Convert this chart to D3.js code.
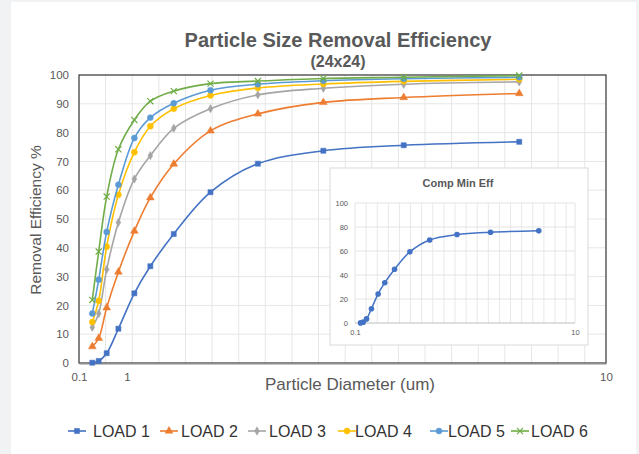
<!DOCTYPE html>
<html><head><meta charset="utf-8">
<script src="https://cdn.jsdelivr.net/npm/d3@7"></script>
<style>
html,body{margin:0;padding:0;background:#f1f2f4;}
svg{display:block;}
text{font-family:"Liberation Sans",Arial,sans-serif;}
</style></head>
<body>
<svg id="c" width="639" height="454"></svg>
<script>
const diameters = [0.35, 0.47, 0.62, 0.84, 1.14, 1.44, 1.88, 2.57, 3.46, 4.69, 6.20, 8.37];
const load1 = [0.1, 0.7, 3.4, 11.9, 24.2, 33.6, 44.8, 59.3, 69.2, 73.7, 75.6, 76.8];
const load2 = [5.7, 8.6, 19.2, 31.6, 45.8, 57.4, 69.1, 80.6, 86.5, 90.5, 92.2, 93.6];
const load3 = [12.4, 17.2, 32.5, 48.8, 63.9, 72.0, 81.5, 88.3, 93.1, 95.4, 96.8, 97.6];
const load4 = [14.2, 21.6, 40.4, 58.4, 73.2, 82.2, 88.3, 92.9, 95.5, 96.9, 97.8, 98.5];
const load5 = [17.2, 28.9, 45.5, 61.9, 78.1, 85.2, 90.2, 94.7, 96.8, 98.0, 98.7, 99.2];
const load6 = [21.9, 38.7, 57.8, 74.2, 84.4, 90.9, 94.4, 97.0, 97.9, 98.8, 99.2, 99.8];
const compMinEff = [0.1, 0.7, 3.4, 11.9, 24.2, 33.6, 44.8, 59.3, 69.2, 73.7, 75.6, 76.8];
const seriesNames = ["LOAD 1", "LOAD 2", "LOAD 3", "LOAD 4", "LOAD 5", "LOAD 6"];
const xTickLabels = [0.1, 1, 10];
const yTicks = [0, 10, 20, 30, 40, 50, 60, 70, 80, 90, 100];
const insetYTicks = [0, 20, 40, 60, 80, 100];

const colors = ["#4472C4", "#ED7D31", "#A5A5A5", "#FFC000", "#5B9BD5", "#70AD47"];
const symbols = [d3.symbolSquare, d3.symbolTriangle, d3.symbolDiamond, d3.symbolCircle, d3.symbolCircle, d3.symbolX];
const symSizes = [26, 26, 20, 28, 28, 26];
const allSeries = [load1, load2, load3, load4, load5, load6];

const svg = d3.select("#c");
svg.append("rect").attr("x", 11).attr("y", 2).attr("width", 625).attr("height", 452).attr("fill", "#fff");

const P = {l: 79, r: 606, t: 75, b: 363};
const x = d3.scaleLinear().domain([0.1, 10]).range([P.l, P.r]);
const y = d3.scaleLinear().domain([0, 100]).range([P.b, P.t]);

const grid = svg.append("g");
grid.selectAll("line.v").data(d3.range(0.6, 10, 0.5)).join("line")
  .attr("x1", d => x(d)).attr("x2", d => x(d)).attr("y1", P.t).attr("y2", P.b)
  .attr("stroke", "#e6e6e6").attr("stroke-width", 1);
grid.selectAll("line.h").data(yTicks.slice(1, -1)).join("line")
  .attr("x1", P.l).attr("x2", P.r).attr("y1", d => y(d)).attr("y2", d => y(d))
  .attr("stroke", "#e6e6e6").attr("stroke-width", 1);

svg.append("rect").attr("x", P.l).attr("y", P.t).attr("width", P.r - P.l).attr("height", P.b - P.t)
  .attr("fill", "none").attr("stroke", "#333").attr("stroke-width", 1.2);

const yAxis = d3.axisLeft(y).tickValues(yTicks).tickSize(0).tickPadding(10);
const gy = svg.append("g").attr("transform", `translate(${P.l},0)`).call(yAxis);
gy.select(".domain").remove();
gy.selectAll("text").attr("fill", "#595959").attr("font-size", "11.5px");

const xAxis = d3.axisBottom(x).tickValues(xTickLabels).tickSize(0).tickPadding(10).tickFormat(d => String(d));
const gx = svg.append("g").attr("transform", `translate(0,${P.b})`).call(xAxis);
gx.select(".domain").attr("stroke", "#8c8c8c").attr("stroke-width", 2);
gx.selectAll("text").attr("fill", "#595959").attr("font-size", "11.5px");

const line = d3.line().x(d => x(d[0])).y(d => y(d[1])).curve(d3.curveCatmullRom.alpha(0.5));
allSeries.forEach((vals, i) => {
  const pts = diameters.map((d, j) => [d, vals[j]]);
  const g = svg.append("g");
  g.append("path").attr("d", line(pts)).attr("fill", "none").attr("stroke", colors[i]).attr("stroke-width", 1.6);
  g.selectAll("path.m").data(pts).join("path").attr("class", "m")
    .attr("transform", d => `translate(${x(d[0])},${y(d[1])})`)
    .attr("d", d3.symbol(symbols[i], symSizes[i])())
    .attr("fill", i === 5 ? "none" : colors[i])
    .attr("stroke", colors[i]).attr("stroke-width", i === 5 ? 1.2 : 0.5);
});

svg.append("text").attr("x", 338).attr("y", 47).attr("text-anchor", "middle")
  .attr("font-size", "20px").attr("font-weight", "bold").attr("fill", "#595959").text("Particle Size Removal Efficiency");
svg.append("text").attr("x", 338).attr("y", 67).attr("text-anchor", "middle")
  .attr("font-size", "16px").attr("font-weight", "bold").attr("fill", "#595959").text("(24x24)");
svg.append("text").attr("transform", "translate(41,220) rotate(-90)").attr("text-anchor", "middle")
  .attr("font-size", "15.5px").attr("fill", "#595959").text("Removal Efficiency %");
svg.append("text").attr("x", 350).attr("y", 390).attr("text-anchor", "middle")
  .attr("font-size", "17px").attr("fill", "#595959").text("Particle Diameter (um)");

// inset
const I = {bx: 330, by: 168, bw: 258, bh: 177, l: 355, r: 575, t: 203, b: 323};
const inset = svg.append("g");
inset.append("rect").attr("x", I.bx).attr("y", I.by).attr("width", I.bw).attr("height", I.bh)
  .attr("fill", "#fff").attr("stroke", "#d9d9d9").attr("stroke-width", 1);
const xi = d3.scaleLinear().domain([0.1, 10]).range([I.l, I.r]);
const yi = d3.scaleLinear().domain([0, 100]).range([I.b, I.t]);
inset.selectAll("line.v").data(d3.range(0.6, 10, 0.5)).join("line")
  .attr("x1", d => xi(d)).attr("x2", d => xi(d)).attr("y1", I.t).attr("y2", I.b)
  .attr("stroke", "#e8e8e8");
inset.selectAll("line.h").data(insetYTicks.slice(1)).join("line")
  .attr("x1", I.l).attr("x2", I.r).attr("y1", d => yi(d)).attr("y2", d => yi(d))
  .attr("stroke", "#e3e3e3");
inset.append("line").attr("x1", I.l).attr("x2", I.l).attr("y1", I.t).attr("y2", I.b).attr("stroke", "#e3e3e3");
inset.append("line").attr("x1", I.r).attr("x2", I.r).attr("y1", I.t).attr("y2", I.b).attr("stroke", "#e3e3e3");
inset.append("line").attr("x1", I.l).attr("x2", I.r).attr("y1", I.b).attr("y2", I.b).attr("stroke", "#bfbfbf");
const giy = inset.append("g").attr("transform", `translate(${I.l},0)`)
  .call(d3.axisLeft(yi).tickValues(insetYTicks).tickSize(0).tickPadding(7));
giy.select(".domain").remove();
giy.selectAll("text").attr("fill", "#595959").attr("font-size", "7.5px");
const gix = inset.append("g").attr("transform", `translate(0,${I.b})`)
  .call(d3.axisBottom(xi).tickValues([0.1, 10]).tickSize(0).tickPadding(7).tickFormat(d => String(d)));
gix.select(".domain").remove();
gix.selectAll("text").attr("fill", "#595959").attr("font-size", "7.5px");
inset.append("text").attr("x", 458).attr("y", 187).attr("text-anchor", "middle")
  .attr("font-size", "11px").attr("font-weight", "bold").attr("fill", "#595959").text("Comp Min Eff");
const lineI = d3.line().x(d => xi(d[0])).y(d => yi(d[1])).curve(d3.curveCatmullRom.alpha(0.5));
const ipts = diameters.map((d, j) => [d, compMinEff[j]]);
inset.append("path").attr("d", lineI(ipts)).attr("fill", "none").attr("stroke", "#4472C4").attr("stroke-width", 1.5);
inset.selectAll("circle").data(ipts).join("circle")
  .attr("cx", d => xi(d[0])).attr("cy", d => yi(d[1])).attr("r", 2.8).attr("fill", "#4472C4");

// legend
const legSym = [77, 169, 257, 347, 439, 520];
const legTxt = [93, 181, 269, 355, 448, 531];
const leg = svg.append("g");
seriesNames.forEach((name, i) => {
  const g = leg.append("g").attr("transform", `translate(0,431)`);
  g.append("line").attr("x1", legSym[i] - 9).attr("x2", legSym[i] + 9).attr("stroke", colors[i]).attr("stroke-width", 1.6);
  g.append("path").attr("transform", `translate(${legSym[i]},0)`).attr("d", d3.symbol(symbols[i], symSizes[i])())
    .attr("fill", i === 5 ? "none" : colors[i]).attr("stroke", colors[i]).attr("stroke-width", i === 5 ? 1.2 : 0.5);
  g.append("text").attr("x", legTxt[i]).attr("y", 6).attr("font-family", "Lato, 'Open Sans', sans-serif")
    .attr("font-size", "16px").attr("fill", "#333").text(name);
});
</script>
</body></html>
